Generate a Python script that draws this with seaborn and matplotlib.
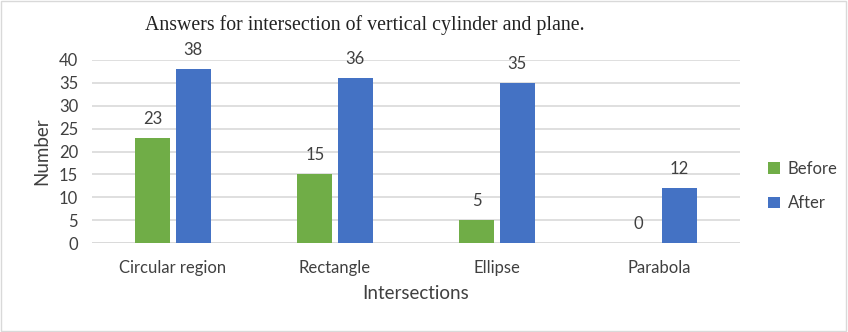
import seaborn as sns
import matplotlib.pyplot as plt
import pandas as pd

# --- data ---
categories = ['Circular region', 'Rectangle', 'Ellipse', 'Parabola']
before = [23, 15, 5, 0]
after = [38, 36, 35, 12]
series = ['Before', 'After']

df = pd.DataFrame({
    'Intersections': categories * 2,
    'Number': before + after,
    'Group': ['Before'] * len(categories) + ['After'] * len(categories),
})

sns.set_theme(style='white')
plt.rcParams['font.family'] = ['Lato', 'DejaVu Sans']
TXT = '#404040'

fig = plt.figure(figsize=(8.48, 3.32), dpi=100)
ax = fig.add_axes([92 / 848, 1 - 243 / 332, 648 / 848, 183 / 332])

sns.barplot(data=df, x='Intersections', y='Number', hue='Group', hue_order=series,
            palette=['#70AD47', '#4472C4'], width=0.5, gap=0.13, ax=ax,
            edgecolor='none', saturation=1, zorder=3)

for cont in ax.containers:
    ax.bar_label(cont, padding=8, fontsize=12, color=TXT, clip_on=False)

ax.set_ylim(0, 40)
ax.set_yticks(range(0, 41, 5))
ax.yaxis.grid(True, color='#D9D9D9', linewidth=1.2, zorder=0)
ax.set_axisbelow(True)
for s in ax.spines.values():
    s.set_visible(False)
ax.axhline(0, color='#D9D9D9', linewidth=1.2, zorder=1)
ax.tick_params(axis='both', length=0, labelsize=12, colors=TXT, pad=12)
ax.tick_params(axis='y', pad=10)
ax.set_xlabel('Intersections', fontsize=13.5, color=TXT, labelpad=7)
ax.set_ylabel('Number', fontsize=13.5, color=TXT, labelpad=6)

ax.legend(loc='center left', bbox_to_anchor=(1.02, 0.31), frameon=False, fontsize=12,
          labelcolor=TXT, handlelength=0.7, handleheight=0.7, handletextpad=0.5,
          labelspacing=1.1)

fig.text(365 / 848, 1 - 25 / 332, 'Answers for intersection of vertical cylinder and plane.',
         ha='center', va='center', fontsize=14.3, family='Liberation Serif', color='#222222')

fig.patches.append(plt.Rectangle((0.001, 0.002), 0.997, 0.995, transform=fig.transFigure,
                                 fill=False, edgecolor='#D9D9D9', linewidth=1))

fig.savefig('out.png', dpi=100)
